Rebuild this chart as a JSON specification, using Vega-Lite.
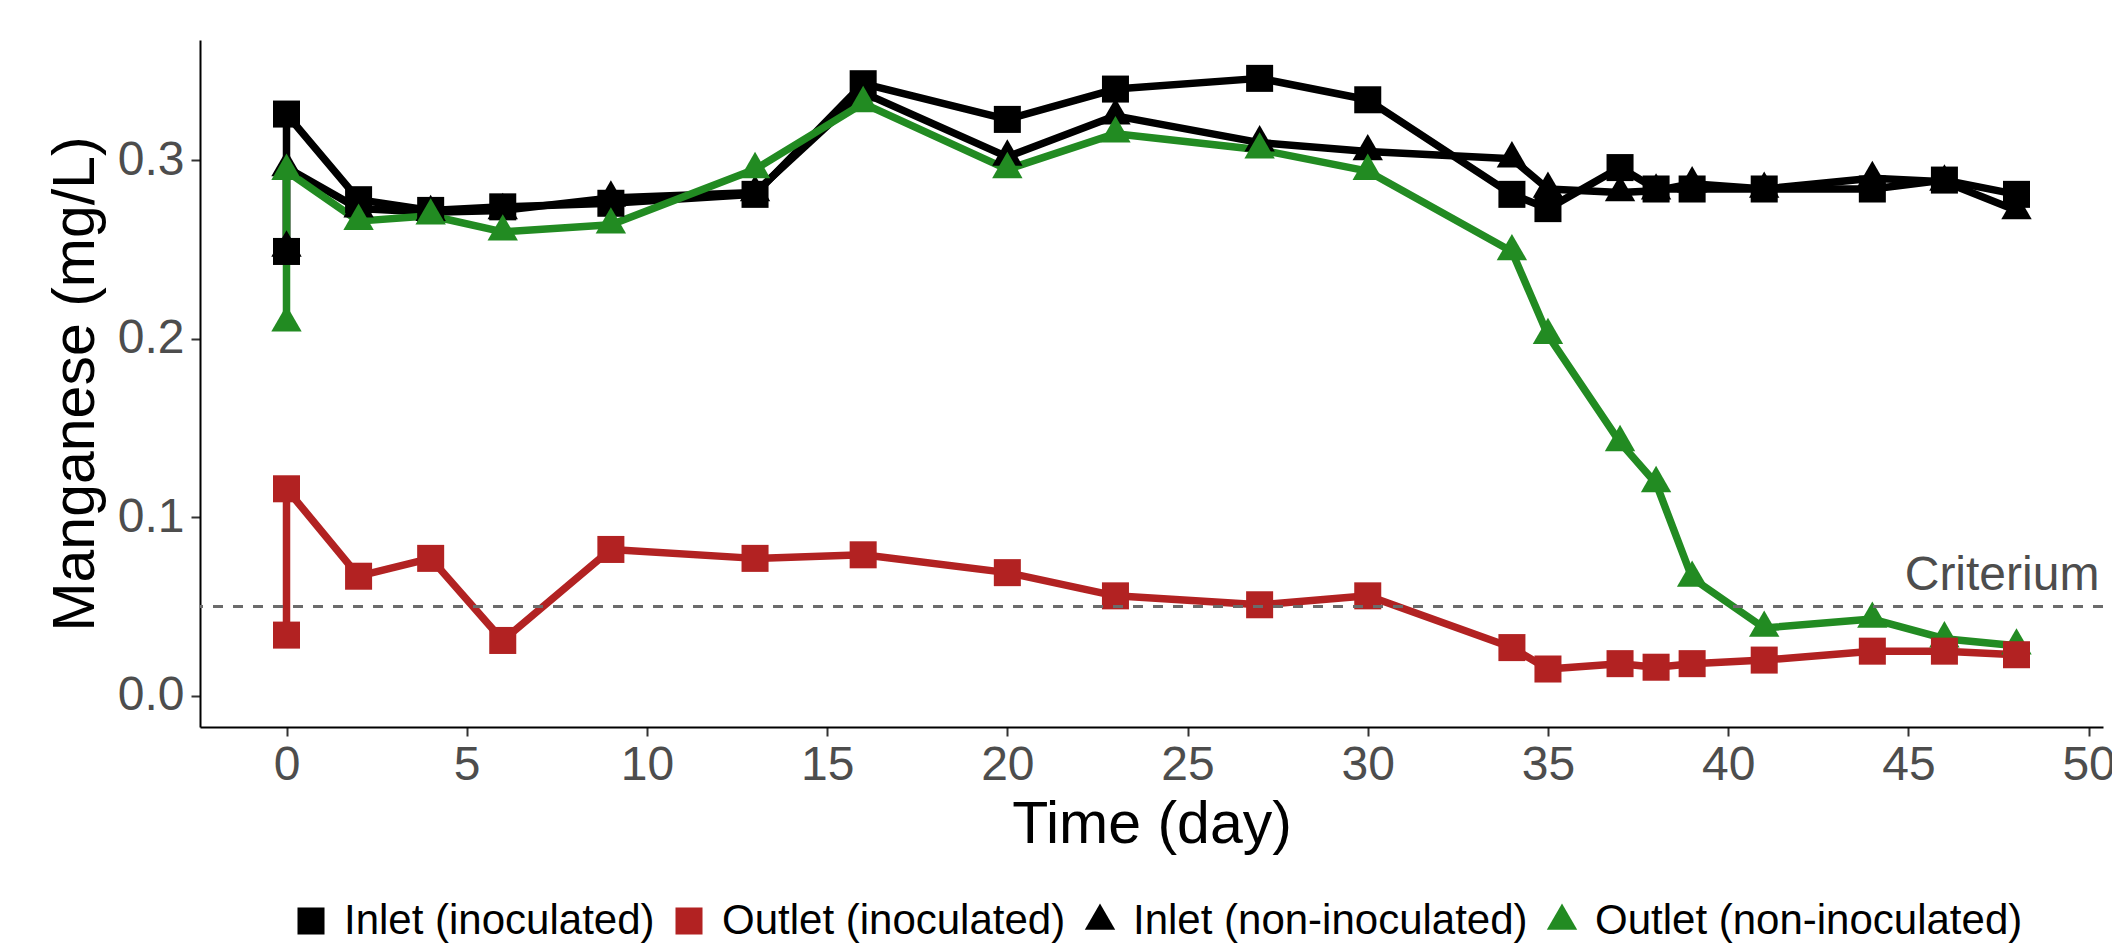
{
  "$schema": "https://vega.github.io/schema/vega-lite/v6.json",
  "width": 1903,
  "height": 687,
  "autosize": "none",
  "padding": {"left": 200, "top": 40, "right": 9, "bottom": 220},
  "background": "white",
  "config": {
    "font": "Liberation Sans",
    "view": {"stroke": null},
    "axis": {"grid": false, "domainColor": "black", "domainWidth": 2, "tickColor": "#333333", "tickWidth": 2, "tickSize": 9, "labelColor": "#4D4D4D", "labelFont": "Liberation Sans", "labelFontSize": 48, "titleFont": "Liberation Sans", "titleFontSize": 59, "titleFontWeight": "normal", "titleColor": "black"}
  },
  "data": {"values": [
    {"series": "Inlet (inoculated)", "day": 0, "mn": 0.249, "seq": 1},
    {"series": "Inlet (inoculated)", "day": 0, "mn": 0.326, "seq": 2},
    {"series": "Inlet (inoculated)", "day": 2, "mn": 0.278, "seq": 3},
    {"series": "Inlet (inoculated)", "day": 4, "mn": 0.272, "seq": 4},
    {"series": "Inlet (inoculated)", "day": 6, "mn": 0.274, "seq": 5},
    {"series": "Inlet (inoculated)", "day": 9, "mn": 0.276, "seq": 6},
    {"series": "Inlet (inoculated)", "day": 13, "mn": 0.281, "seq": 7},
    {"series": "Inlet (inoculated)", "day": 16, "mn": 0.343, "seq": 8},
    {"series": "Inlet (inoculated)", "day": 20, "mn": 0.323, "seq": 9},
    {"series": "Inlet (inoculated)", "day": 23, "mn": 0.340, "seq": 10},
    {"series": "Inlet (inoculated)", "day": 27, "mn": 0.346, "seq": 11},
    {"series": "Inlet (inoculated)", "day": 30, "mn": 0.334, "seq": 12},
    {"series": "Inlet (inoculated)", "day": 34, "mn": 0.281, "seq": 13},
    {"series": "Inlet (inoculated)", "day": 35, "mn": 0.273, "seq": 14},
    {"series": "Inlet (inoculated)", "day": 37, "mn": 0.296, "seq": 15},
    {"series": "Inlet (inoculated)", "day": 38, "mn": 0.284, "seq": 16},
    {"series": "Inlet (inoculated)", "day": 39, "mn": 0.284, "seq": 17},
    {"series": "Inlet (inoculated)", "day": 41, "mn": 0.284, "seq": 18},
    {"series": "Inlet (inoculated)", "day": 44, "mn": 0.284, "seq": 19},
    {"series": "Inlet (inoculated)", "day": 46, "mn": 0.289, "seq": 20},
    {"series": "Inlet (inoculated)", "day": 48, "mn": 0.281, "seq": 21},
    {"series": "Inlet (non-inoculated)", "day": 0, "mn": 0.251, "seq": 1},
    {"series": "Inlet (non-inoculated)", "day": 0, "mn": 0.296, "seq": 2},
    {"series": "Inlet (non-inoculated)", "day": 2, "mn": 0.273, "seq": 3},
    {"series": "Inlet (non-inoculated)", "day": 4, "mn": 0.271, "seq": 4},
    {"series": "Inlet (non-inoculated)", "day": 6, "mn": 0.272, "seq": 5},
    {"series": "Inlet (non-inoculated)", "day": 9, "mn": 0.279, "seq": 6},
    {"series": "Inlet (non-inoculated)", "day": 13, "mn": 0.282, "seq": 7},
    {"series": "Inlet (non-inoculated)", "day": 16, "mn": 0.338, "seq": 8},
    {"series": "Inlet (non-inoculated)", "day": 20, "mn": 0.302, "seq": 9},
    {"series": "Inlet (non-inoculated)", "day": 23, "mn": 0.325, "seq": 10},
    {"series": "Inlet (non-inoculated)", "day": 27, "mn": 0.310, "seq": 11},
    {"series": "Inlet (non-inoculated)", "day": 30, "mn": 0.305, "seq": 12},
    {"series": "Inlet (non-inoculated)", "day": 34, "mn": 0.301, "seq": 13},
    {"series": "Inlet (non-inoculated)", "day": 35, "mn": 0.284, "seq": 14},
    {"series": "Inlet (non-inoculated)", "day": 37, "mn": 0.282, "seq": 15},
    {"series": "Inlet (non-inoculated)", "day": 38, "mn": 0.283, "seq": 16},
    {"series": "Inlet (non-inoculated)", "day": 39, "mn": 0.287, "seq": 17},
    {"series": "Inlet (non-inoculated)", "day": 41, "mn": 0.284, "seq": 18},
    {"series": "Inlet (non-inoculated)", "day": 44, "mn": 0.290, "seq": 19},
    {"series": "Inlet (non-inoculated)", "day": 46, "mn": 0.288, "seq": 20},
    {"series": "Inlet (non-inoculated)", "day": 48, "mn": 0.272, "seq": 21},
    {"series": "Outlet (non-inoculated)", "day": 0, "mn": 0.209, "seq": 1},
    {"series": "Outlet (non-inoculated)", "day": 0, "mn": 0.294, "seq": 2},
    {"series": "Outlet (non-inoculated)", "day": 2, "mn": 0.266, "seq": 3},
    {"series": "Outlet (non-inoculated)", "day": 4, "mn": 0.269, "seq": 4},
    {"series": "Outlet (non-inoculated)", "day": 6, "mn": 0.260, "seq": 5},
    {"series": "Outlet (non-inoculated)", "day": 9, "mn": 0.264, "seq": 6},
    {"series": "Outlet (non-inoculated)", "day": 13, "mn": 0.295, "seq": 7},
    {"series": "Outlet (non-inoculated)", "day": 16, "mn": 0.332, "seq": 8},
    {"series": "Outlet (non-inoculated)", "day": 20, "mn": 0.295, "seq": 9},
    {"series": "Outlet (non-inoculated)", "day": 23, "mn": 0.315, "seq": 10},
    {"series": "Outlet (non-inoculated)", "day": 27, "mn": 0.306, "seq": 11},
    {"series": "Outlet (non-inoculated)", "day": 30, "mn": 0.294, "seq": 12},
    {"series": "Outlet (non-inoculated)", "day": 34, "mn": 0.249, "seq": 13},
    {"series": "Outlet (non-inoculated)", "day": 35, "mn": 0.202, "seq": 14},
    {"series": "Outlet (non-inoculated)", "day": 37, "mn": 0.142, "seq": 15},
    {"series": "Outlet (non-inoculated)", "day": 38, "mn": 0.119, "seq": 16},
    {"series": "Outlet (non-inoculated)", "day": 39, "mn": 0.066, "seq": 17},
    {"series": "Outlet (non-inoculated)", "day": 41, "mn": 0.038, "seq": 18},
    {"series": "Outlet (non-inoculated)", "day": 44, "mn": 0.043, "seq": 19},
    {"series": "Outlet (non-inoculated)", "day": 46, "mn": 0.032, "seq": 20},
    {"series": "Outlet (non-inoculated)", "day": 48, "mn": 0.028, "seq": 21},
    {"series": "Outlet (inoculated)", "day": 0, "mn": 0.034, "seq": 1},
    {"series": "Outlet (inoculated)", "day": 0, "mn": 0.116, "seq": 2},
    {"series": "Outlet (inoculated)", "day": 2, "mn": 0.067, "seq": 3},
    {"series": "Outlet (inoculated)", "day": 4, "mn": 0.077, "seq": 4},
    {"series": "Outlet (inoculated)", "day": 6, "mn": 0.031, "seq": 5},
    {"series": "Outlet (inoculated)", "day": 9, "mn": 0.082, "seq": 6},
    {"series": "Outlet (inoculated)", "day": 13, "mn": 0.077, "seq": 7},
    {"series": "Outlet (inoculated)", "day": 16, "mn": 0.079, "seq": 8},
    {"series": "Outlet (inoculated)", "day": 20, "mn": 0.069, "seq": 9},
    {"series": "Outlet (inoculated)", "day": 23, "mn": 0.056, "seq": 10},
    {"series": "Outlet (inoculated)", "day": 27, "mn": 0.051, "seq": 11},
    {"series": "Outlet (inoculated)", "day": 30, "mn": 0.056, "seq": 12},
    {"series": "Outlet (inoculated)", "day": 34, "mn": 0.027, "seq": 13},
    {"series": "Outlet (inoculated)", "day": 35, "mn": 0.015, "seq": 14},
    {"series": "Outlet (inoculated)", "day": 37, "mn": 0.018, "seq": 15},
    {"series": "Outlet (inoculated)", "day": 38, "mn": 0.016, "seq": 16},
    {"series": "Outlet (inoculated)", "day": 39, "mn": 0.018, "seq": 17},
    {"series": "Outlet (inoculated)", "day": 41, "mn": 0.020, "seq": 18},
    {"series": "Outlet (inoculated)", "day": 44, "mn": 0.025, "seq": 19},
    {"series": "Outlet (inoculated)", "day": 46, "mn": 0.025, "seq": 20},
    {"series": "Outlet (inoculated)", "day": 48, "mn": 0.023, "seq": 21}
  ]},
  "encoding": {
    "x": {"field": "day", "type": "quantitative",
      "scale": {"domain": [-2.4, 50.4], "nice": false, "zero": false},
      "axis": {"values": [0, 5, 10, 15, 20, 25, 30, 35, 40, 45, 50], "title": "Time (day)", "labelPadding": 5, "titleBaseline": "alphabetic", "titleY": 115}},
    "y": {"field": "mn", "type": "quantitative",
      "scale": {"domain": [-0.0175, 0.3675], "nice": false, "zero": false},
      "axis": {"values": [0, 0.1, 0.2, 0.3], "format": ".1f", "title": "Manganese (mg/L)", "labelPadding": 7, "titleBaseline": "alphabetic", "titleX": -107, "titleY": 343.5}},
    "color": {"field": "series", "type": "nominal",
      "scale": {"domain": ["Inlet (inoculated)", "Outlet (inoculated)", "Inlet (non-inoculated)", "Outlet (non-inoculated)"], "range": ["#000000", "#B22222", "#000000", "#228B22"]},
      "legend": {"title": null, "orient": "none", "direction": "horizontal", "legendX": 90, "legendY": 860, "labelFontSize": 42, "labelFont": "Liberation Sans", "labelColor": "black", "labelLimit": 0, "symbolSize": 730, "labelOffset": 12, "columnPadding": 13, "padding": 0, "symbolStrokeWidth": 0, "symbolOpacity": 1}}
  },
  "layer": [
    {"mark": {"type": "line", "strokeWidth": 7.5, "strokeJoin": "round"},
     "encoding": {"order": {"field": "seq", "type": "quantitative"}}},
    {"mark": {"type": "point", "filled": true, "opacity": 1, "size": 730},
     "encoding": {"shape": {"field": "series", "type": "nominal",
       "scale": {"domain": ["Inlet (inoculated)", "Outlet (inoculated)", "Inlet (non-inoculated)", "Outlet (non-inoculated)"], "range": ["square", "square", "M0,-1.3L-1.125,0.65L1.125,0.65Z", "M0,-1.3L-1.125,0.65L1.125,0.65Z"]}}}},
    {"data": {"values": [{"criterium": 0.05, "label": "Criterium"}]},
     "mark": {"type": "rule", "color": "#6b6b6b", "strokeWidth": 3, "strokeDash": [10, 10]},
     "encoding": {"y": {"field": "criterium", "type": "quantitative"}, "x": null, "color": null}},
    {"data": {"values": [{"criterium": 0.05, "label": "Criterium", "xpos": 50.3}]},
     "mark": {"type": "text", "align": "right", "baseline": "alphabetic", "fontSize": 48, "color": "#4D4D4D", "dy": -17},
     "encoding": {"x": {"field": "xpos", "type": "quantitative"}, "y": {"field": "criterium", "type": "quantitative"}, "text": {"field": "label"}, "color": null}}
  ]
}
